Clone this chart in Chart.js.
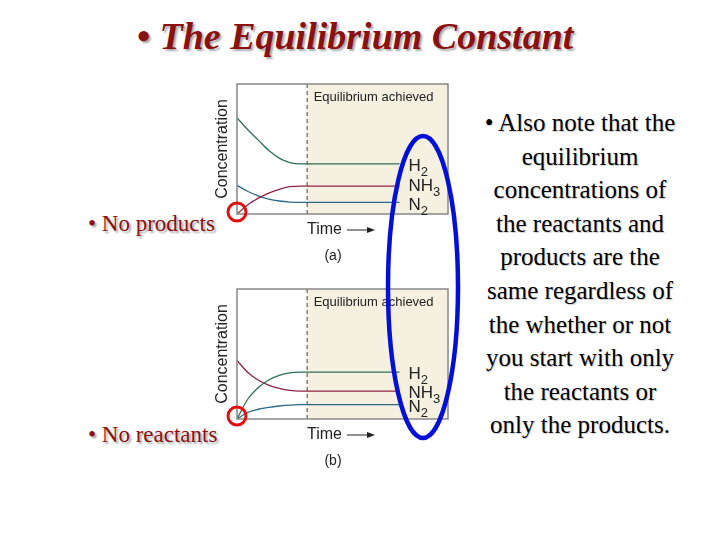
<!DOCTYPE html>
<html><head><meta charset="utf-8">
<script src="https://cdn.jsdelivr.net/npm/chart.js@4/dist/chart.umd.min.js"></script>
<style>
body{margin:0;width:720px;height:540px;background:#fff;position:relative;overflow:hidden;font-family:"Liberation Serif",serif}
.t{position:absolute;color:#8b1010;text-shadow:2px 2px 2px #aaa}
#title{left:0;width:710px;top:14px;text-align:center;font-size:38px;font-weight:bold;font-style:italic}
.np{font-size:23px;left:88px}
#right{position:absolute;left:440px;width:280px;top:106px;text-align:center;font-size:25px;line-height:33.6px;color:#000;text-shadow:1px 1px 1px #ccc;white-space:nowrap}
canvas.c{position:absolute}
svg{position:absolute;left:0;top:0}
</style></head><body>
<div id="title" class="t">• The Equilibrium Constant</div>
<div class="t np" style="top:211px">• No products</div>
<div class="t np" style="top:422px">• No reactants</div>
<div id="right">• Also note that the<br>equilibrium<br>concentrations of<br>the reactants and<br>products are the<br>same regardless of<br>the whether or not<br>you start with only<br>the reactants or<br>only the products.</div>
<canvas id="ca" class="c" style="left:200px;top:80px" width="260" height="190"></canvas>
<canvas id="cb" class="c" style="left:200px;top:285px" width="260" height="190"></canvas>
<svg width="720" height="540">
<ellipse cx="423" cy="287" rx="35" ry="151" fill="none" stroke="#0010d8" stroke-width="4.5"/>
<circle cx="237" cy="212" r="9" fill="none" stroke="#e01010" stroke-width="3"/>
<circle cx="237" cy="416" r="9" fill="none" stroke="#e01010" stroke-width="3"/>
</svg>
<script>
const timeA=[0,0.5,1,1.5,2,2.5,3,7.7];
const h2A=[7.4,6.5,5.7,4.9,4.3,3.95,3.85,3.85];
const nh3A=[0,0.7,1.2,1.6,1.9,2.1,2.15,2.15];
const n2A=[2.2,1.75,1.4,1.15,1.0,0.92,0.9,0.9];
const h2B=[0,1.5,2.4,3.0,3.35,3.55,3.6,3.6];
const nh3B=[4.5,3.6,3.0,2.6,2.35,2.2,2.15,2.15];
const n2B=[0,0.5,0.75,0.9,1.0,1.07,1.1,1.1];
const eqTime=3.3;
const colors={H2:'#2f7055',NH3:'#8e2443',N2:'#2d6a8a'};
const deco={id:'deco',
 beforeDatasetsDraw(c){const a=c.chartArea,x=c.scales.x,ctx=c.ctx;const xe=x.getPixelForValue(eqTime);
  ctx.save();ctx.fillStyle='#f5f0e0';ctx.fillRect(xe,a.top,a.right-xe,a.bottom-a.top);
  ctx.strokeStyle='#444';ctx.setLineDash([4,3]);ctx.lineWidth=1;ctx.beginPath();ctx.moveTo(xe+.5,a.top);ctx.lineTo(xe+.5,a.bottom);ctx.stroke();ctx.setLineDash([]);
  ctx.fillStyle='#222';ctx.font='13px "Liberation Sans",Arial';ctx.textBaseline='middle';ctx.fillText('Equilibrium achieved',xe+7,a.top+13);ctx.restore();},
 afterDatasetsDraw(c,args,o){const a=c.chartArea,ctx=c.ctx;ctx.save();
  ctx.strokeStyle='#888';ctx.lineWidth=1.5;ctx.strokeRect(a.left,a.top,a.right-a.left,a.bottom-a.top);
  ctx.fillStyle='#222';ctx.textBaseline='middle';
  c.data.datasets.forEach((d,i)=>{const m=c.getDatasetMeta(i);const p=m.data[m.data.length-1];const y=p.y+(o.off[i]||0);
   ctx.font='17px "Liberation Sans",Arial';const base=d.label.replace(/\d/,'');ctx.fillText(base,p.x+9,y);const w=ctx.measureText(base).width;
   ctx.font='13px "Liberation Sans",Arial';ctx.fillText(d.label.replace(/\D/g,''),p.x+9+w,y+6);});
  ctx.font='16px "Liberation Sans",Arial';ctx.fillText('Time',a.left+70,a.bottom+16);
  ctx.strokeStyle='#222';ctx.lineWidth=1;ctx.beginPath();ctx.moveTo(a.left+110,a.bottom+16);ctx.lineTo(a.left+133,a.bottom+16);ctx.stroke();
  ctx.beginPath();ctx.moveTo(a.left+138,a.bottom+16);ctx.lineTo(a.left+130,a.bottom+13);ctx.lineTo(a.left+130,a.bottom+19);ctx.fill();
  ctx.font='14px "Liberation Sans",Arial';ctx.textAlign='center';ctx.fillText(o.tag,a.left+96,a.bottom+42);
  ctx.translate(a.left-14,(a.top+a.bottom)/2);ctx.rotate(-Math.PI/2);ctx.font='16px "Liberation Sans",Arial';ctx.fillText('Concentration',0,0);
  ctx.restore();}};
function mk(id,h,n,z,tag,off){
 const ds=[['H2',h],['NH3',n],['N2',z]].map(([l,v])=>({label:l,data:timeA.map((t,i)=>({x:t,y:v[i]})),borderColor:colors[l],borderWidth:1.3,pointRadius:0,cubicInterpolationMode:'monotone'}));
 new Chart(document.getElementById(id),{type:'line',data:{datasets:ds},plugins:[deco],
  options:{responsive:false,animation:false,layout:{padding:{left:37,top:4,right:12,bottom:56}},
   scales:{x:{type:'linear',min:0,max:10,display:false},y:{min:0,max:10,display:false}},
   plugins:{legend:{display:false},tooltip:{enabled:false},deco:{tag,off}}}});}
mk('ca',h2A,nh3A,n2A,'(a)',[2,0,3]);
mk('cb',h2B,nh3B,n2B,'(b)',[2,2,3]);
</script></body></html>
